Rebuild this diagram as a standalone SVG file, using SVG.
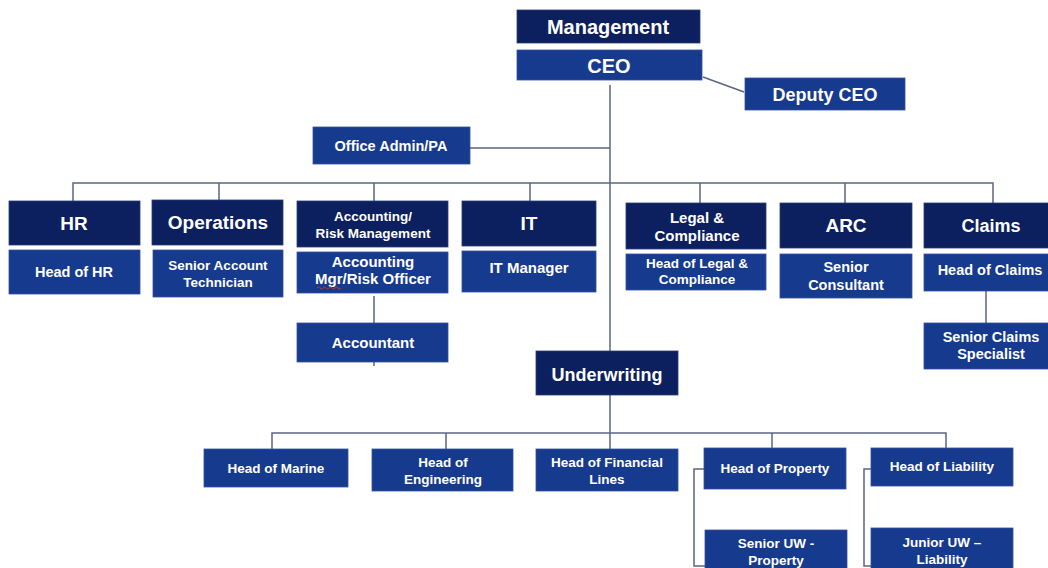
<svg xmlns="http://www.w3.org/2000/svg" width="1048" height="568" viewBox="0 0 1048 568">
<style>
.dk{fill:#0c1f5e;stroke:#2a3f7a;stroke-width:0.8}
.md{fill:#163a8e;stroke:#3552a0;stroke-width:0.8}
text{font-family:"Liberation Sans",Arial,sans-serif;font-weight:bold;fill:#ffffff;text-anchor:middle}
.f20{font-size:20px}.f19{font-size:19px}.f18{font-size:18px}.f15{font-size:15px}.f14{font-size:14.5px}.f13{font-size:13.5px}
#connectors path,#connectors line{stroke:#5a6585;stroke-width:1.5;fill:none}
</style>
<rect width="1048" height="568" fill="#ffffff"/>
<g id="connectors">
<line x1="610" y1="85" x2="610" y2="351"/>
<line x1="703" y1="77" x2="744" y2="92"/>
<line x1="470" y1="148" x2="610" y2="148"/>
<path d="M73 201V183H993V203"/>
<line x1="219" y1="183" x2="219" y2="200"/>
<line x1="374" y1="183" x2="374" y2="201"/>
<line x1="530" y1="183" x2="530" y2="201"/>
<line x1="700" y1="183" x2="700" y2="203"/>
<line x1="845" y1="183" x2="845" y2="203"/>
<line x1="374" y1="296" x2="374" y2="323"/>
<line x1="374" y1="362" x2="374" y2="366"/>
<line x1="986" y1="291" x2="986" y2="323"/>
<line x1="610" y1="395" x2="610" y2="449"/>
<path d="M272 449V433H946V448"/>
<line x1="446" y1="433" x2="446" y2="449"/>
<line x1="772" y1="433" x2="772" y2="448"/>
<path d="M704 469H694V566H705"/>
<path d="M871 469H864V566H871"/>
</g>
<g id="management"><rect class="dk" x="517" y="10" width="183" height="33"/><text class="f20" x="608" y="34">Management</text></g>
<g id="ceo"><rect class="md" x="517" y="50" width="185" height="30"/><text class="f20" x="609" y="73">CEO</text></g>
<g id="deputy-ceo"><rect class="md" x="745" y="78" width="160" height="32"/><text class="f18" x="825" y="101">Deputy CEO</text></g>
<g id="office-admin"><rect class="md" x="313" y="127" width="157" height="37"/><text class="f14" x="391" y="151">Office Admin/PA</text></g>
<g id="hr"><rect class="dk" x="9" y="201" width="131" height="44"/><text class="f19" x="74" y="230">HR</text>
<rect class="md" x="9" y="250" width="131" height="44"/><text class="f14" x="74" y="277">Head of HR</text></g>
<g id="operations"><rect class="dk" x="152" y="200" width="131" height="45"/><text class="f19" x="218" y="229">Operations</text>
<rect class="md" x="153" y="250" width="130" height="47"/><text class="f13" x="218" y="270">Senior Account</text><text class="f13" x="218" y="287">Technician</text></g>
<g id="accounting"><rect class="dk" x="297" y="201" width="151" height="46"/><text class="f13" x="373" y="221">Accounting/</text><text class="f13" x="373" y="238">Risk Management</text>
<rect class="md" x="297" y="252" width="151" height="41"/><text class="f15" x="373" y="267">Accounting</text><text class="f15" x="373" y="284">Mgr/Risk Officer</text>
<path d="M317 288q1.5-2 3 0t3 0t3 0t3 0t3 0t3 0t3 0t3 0" stroke="#d0342c" stroke-width="0.9" fill="none"/></g>
<g id="accountant"><rect class="md" x="297" y="323" width="151" height="39"/><text class="f15" x="373" y="348">Accountant</text></g>
<g id="it"><rect class="dk" x="462" y="201" width="134" height="45"/><text class="f19" x="529" y="230">IT</text>
<rect class="md" x="462" y="251" width="134" height="41"/><text class="f15" x="529" y="273">IT Manager</text></g>
<g id="legal"><rect class="dk" x="626" y="203" width="140" height="46"/><text class="f15" x="697" y="223">Legal &amp;</text><text class="f15" x="697" y="241">Compliance</text>
<rect class="md" x="626" y="254" width="140" height="36"/><text class="f13" x="697" y="268">Head of Legal &amp;</text><text class="f13" x="697" y="284">Compliance</text></g>
<g id="arc"><rect class="dk" x="780" y="203" width="132" height="45"/><text class="f19" x="846" y="232">ARC</text>
<rect class="md" x="780" y="254" width="132" height="44"/><text class="f14" x="846" y="272">Senior</text><text class="f14" x="846" y="290">Consultant</text></g>
<g id="claims"><rect class="dk" x="924" y="203" width="130" height="45"/><text class="f18" x="991" y="232">Claims</text>
<rect class="md" x="924" y="254" width="130" height="37"/><text class="f14" x="990" y="275">Head of Claims</text></g>
<g id="senior-claims"><rect class="md" x="924" y="323" width="130" height="46"/><text class="f14" x="991" y="342">Senior Claims</text><text class="f14" x="991" y="359">Specialist</text></g>
<g id="underwriting"><rect class="dk" x="536" y="351" width="142" height="44"/><text class="f18" x="607" y="381">Underwriting</text></g>
<g id="marine"><rect class="md" x="204" y="449" width="144" height="38"/><text class="f13" x="276" y="473">Head of Marine</text></g>
<g id="engineering"><rect class="md" x="372" y="449" width="141" height="42"/><text class="f13" x="443" y="467">Head of</text><text class="f13" x="443" y="484">Engineering</text></g>
<g id="financial"><rect class="md" x="536" y="449" width="142" height="42"/><text class="f13" x="607" y="467">Head of Financial</text><text class="f13" x="607" y="484">Lines</text></g>
<g id="property"><rect class="md" x="704" y="448" width="142" height="41"/><text class="f13" x="775" y="473">Head of Property</text></g>
<g id="liability"><rect class="md" x="871" y="448" width="142" height="38"/><text class="f13" x="942" y="471">Head of Liability</text></g>
<g id="senior-uw"><rect class="md" x="705" y="530" width="142" height="45"/><text class="f13" x="776" y="548">Senior UW -</text><text class="f13" x="776" y="565">Property</text></g>
<g id="junior-uw"><rect class="md" x="871" y="528" width="142" height="45"/><text class="f13" x="942" y="547">Junior UW –</text><text class="f13" x="942" y="564">Liability</text></g>
</svg>
